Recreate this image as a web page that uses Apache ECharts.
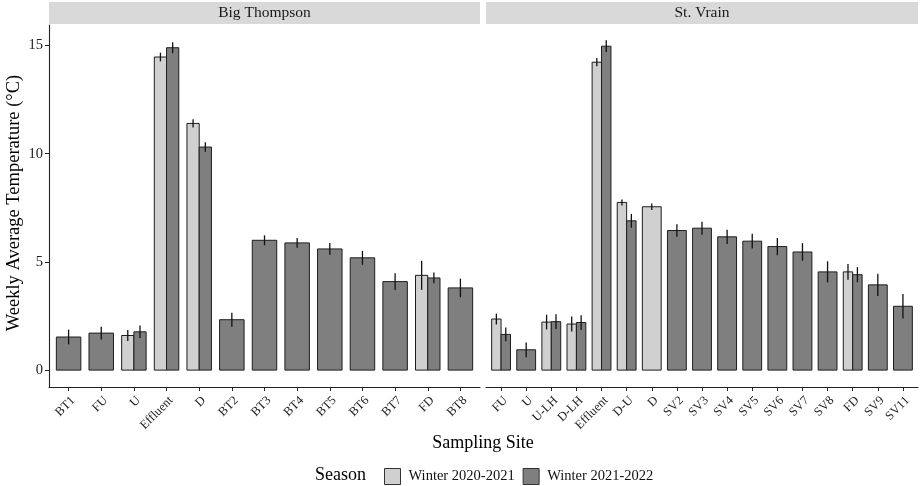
<!DOCTYPE html>
<html>
<head>
<meta charset="utf-8">
<script src="https://cdn.jsdelivr.net/npm/echarts@6/dist/echarts.min.js"></script>
<style>html,body{margin:0;padding:0;background:#fff;}#c{width:920px;height:486px;}</style>
</head>
<body>
<div id="c"></div>
<script>
// ---- data ----
const panels = ['Big Thompson', 'St. Vrain'];
const seasons = ['Winter 2020-2021', 'Winter 2021-2022'];
const yTicks = [0, 5, 10, 15];

const btSites = ['BT1','FU','U','Effluent','D','BT2','BT3','BT4','BT5','BT6','BT7','FD','BT8'];
const btMean2021 = [null,null,1.60,14.47,11.40,null,null,null,null,null,null,4.38,null];
const btErr2021  = [null,null,0.25,0.20,0.19,null,null,null,null,null,null,0.67,null];
const btMean2022 = [1.53,1.71,1.77,14.90,10.31,2.33,6.00,5.88,5.60,5.19,4.09,4.26,3.80];
const btErr2022  = [0.34,0.29,0.29,0.25,0.22,0.32,0.23,0.23,0.27,0.32,0.39,0.25,0.43];

const svSites = ['FU','U','U-LH','D-LH','Effluent','D-U','D','SV2','SV3','SV4','SV5','SV6','SV7','SV8','FD','SV9','SV11'];
const svMean2021 = [2.36,null,2.22,2.13,14.23,7.75,7.55,null,null,null,null,null,null,null,4.54,null,null];
const svErr2021  = [0.25,null,0.34,0.35,0.19,0.14,0.15,null,null,null,null,null,null,null,0.36,null,null];
const svMean2022 = [1.65,0.94,2.24,2.20,14.97,6.90,null,6.45,6.56,6.16,5.96,5.71,5.46,4.54,4.41,3.94,2.95];
const svErr2022  = [0.32,0.34,0.34,0.34,0.27,0.32,null,0.29,0.30,0.33,0.34,0.40,0.41,0.49,0.35,0.51,0.57];

// ---- build ----
const FONT = '"Liberation Serif", "DejaVu Serif", serif';
const colors = ['#d0d0d0', '#7f7f7f'];

function items(mA, eA, mB, eB, s) {
  const m = s === 0 ? mA : mB, e = s === 0 ? eA : eB;
  const out = [];
  for (let i = 0; i < m.length; i++) {
    if (m[i] == null) continue;
    const paired = (mA[i] != null && mB[i] != null) ? 1 : 0;
    out.push([i, m[i], e[i], paired, s]);
  }
  return out;
}

function subBar(api) {
  const i = api.value(0), v = api.value(1), paired = api.value(3), s = api.value(4);
  const c = api.coord([i, v]);
  const c0 = api.coord([i, 0]);
  const bw = api.size([0.75, 0])[0];
  let x = c[0] - bw / 2, w = bw;
  if (paired) { w = bw / 2; x = c[0] - bw / 2 + s * bw / 2; }
  return { x, y: c[1], w, h: c0[1] - c[1] };
}

function renderBar(params, api) {
  const b = subBar(api);
  return { type: 'rect', shape: { x: b.x, y: b.y, width: b.w, height: b.h },
    style: { fill: api.visual('color'), stroke: '#1e1e1e', lineWidth: 1 } };
}
function renderErr(params, api) {
  const b = subBar(api);
  const i = api.value(0), v = api.value(1), e = api.value(2);
  const top = api.coord([i, v + e])[1], bot = api.coord([i, v - e])[1];
  const cx = b.x + b.w / 2;
  return { type: 'line', shape: { x1: cx, y1: top, x2: cx, y2: bot },
    style: { stroke: '#111', lineWidth: 1.3 } };
}

const panelData = [
  [btSites, btMean2021, btErr2021, btMean2022, btErr2022],
  [svSites, svMean2021, svErr2021, svMean2022, svErr2022]
];

const grids = [
  { left: 49, right: 440, top: 25, bottom: 99 },
  { left: 486, right: 2, top: 25, bottom: 99 }
];

const xAxes = panelData.map((p, g) => {
  const n = p[0].length;
  const idx = p[0].map((_, i) => i);
  return {
    type: 'value', gridIndex: g, min: -0.6, max: n - 1 + 0.6,
    splitLine: { show: false },
    axisLine: { show: true, onZero: false, lineStyle: { color: '#222', width: 1.1 } },
    axisTick: { show: true, customValues: idx, length: 4, lineStyle: { color: '#222' } },
    axisLabel: { customValues: idx, rotate: 45, margin: 7, verticalAlign: 'top', fontFamily: FONT, fontSize: 12.5, color: '#222',
      formatter: v => p[0][Math.round(v)] }
  };
});

const yAxes = [0, 1].map(g => ({
  type: 'value', gridIndex: g, min: -0.78, max: 15.95,
  splitLine: { show: false },
  axisLine: { show: g === 0, onZero: false, lineStyle: { color: '#222', width: 1.1 } },
  axisTick: { show: g === 0, customValues: yTicks, length: 4, lineStyle: { color: '#222' } },
  axisLabel: { show: g === 0, customValues: yTicks, margin: 6, fontFamily: FONT, fontSize: 14.5, color: '#222' }
}));

const series = [];
panelData.forEach((p, g) => {
  [0, 1].forEach(s => {
    series.push({
      type: 'custom', name: seasons[s], xAxisIndex: g, yAxisIndex: g,
      itemStyle: { color: colors[s], borderColor: '#1e1e1e', borderWidth: 1 },
      renderItem: renderBar, encode: { x: 0, y: 1 },
      data: items(p[1], p[2], p[3], p[4], s), z: 2
    });
  });
});
panelData.forEach((p, g) => {
  [0, 1].forEach(s => {
    series.push({
      type: 'custom', name: 'err' + g + s, xAxisIndex: g, yAxisIndex: g,
      renderItem: renderErr, encode: { x: 0, y: 1 },
      data: items(p[1], p[2], p[3], p[4], s), z: 3
    });
  });
});

const chart = echarts.init(document.getElementById('c'), null, { renderer: 'canvas' });
chart.setOption({
  animation: false,
  backgroundColor: '#fff',
  grid: grids,
  xAxis: xAxes,
  yAxis: yAxes,
  series: series,
  legend: {
    data: seasons, left: 379, top: 463, itemWidth: 16, itemHeight: 16, itemGap: 8,
    icon: 'rect', selectedMode: false,
    itemStyle: { borderColor: '#333', borderWidth: 1 },
    textStyle: { fontFamily: FONT, fontSize: 14.5, color: '#111', padding: [0, 0, 0, 3] }
  },
  graphic: [
    { type: 'rect', shape: { x: 49, y: 2, width: 431, height: 22 }, style: { fill: '#d9d9d9' }, silent: true },
    { type: 'rect', shape: { x: 486, y: 2, width: 432, height: 22 }, style: { fill: '#d9d9d9' }, silent: true },
    { type: 'text', x: 264.5, y: 13, style: { text: panels[0], font: '15.5px ' + FONT, fill: '#1a1a1a', textAlign: 'center', textVerticalAlign: 'middle' } },
    { type: 'text', x: 702, y: 13, style: { text: panels[1], font: '15.5px ' + FONT, fill: '#1a1a1a', textAlign: 'center', textVerticalAlign: 'middle' } },
    { type: 'text', x: 14, y: 203, rotation: Math.PI / 2, style: { text: 'Weekly Average Temperature (°C)', font: '18.5px ' + FONT, fill: '#000', textAlign: 'center', textVerticalAlign: 'middle' } },
    { type: 'text', x: 483, y: 443, style: { text: 'Sampling Site', font: '18px ' + FONT, fill: '#000', textAlign: 'center', textVerticalAlign: 'middle' } },
    { type: 'text', x: 315, y: 475, style: { text: 'Season', font: '18px ' + FONT, fill: '#000', textAlign: 'left', textVerticalAlign: 'middle' } }
  ]
});
</script>
</body>
</html>
